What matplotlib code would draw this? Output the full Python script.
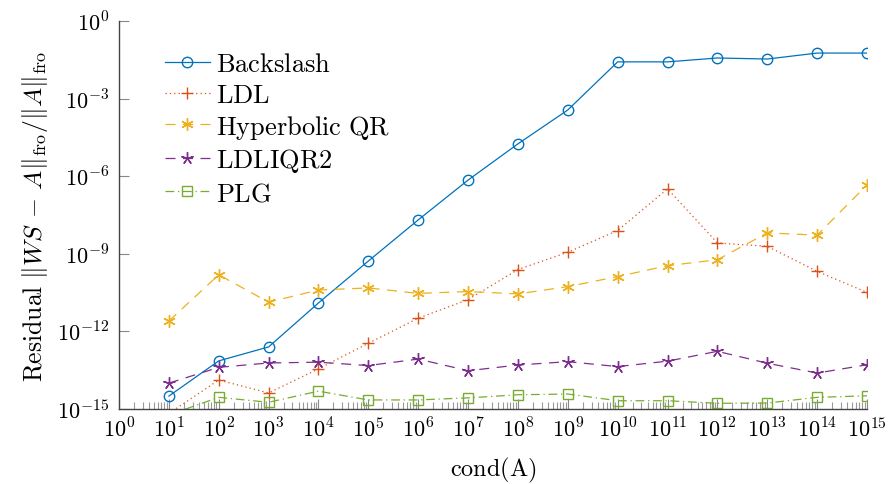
import numpy as np
import matplotlib
matplotlib.use('Agg')
import matplotlib.pyplot as plt
from matplotlib.ticker import FuncFormatter, LogLocator, FixedLocator, NullLocator

plt.rcParams['mathtext.fontset'] = 'cm'
plt.rcParams['font.family'] = 'DejaVu Serif'

# condition numbers 10^1 .. 10^15
cond = 10.0 ** np.arange(1, 16)

# residuals as log10 values
backslash = [-14.5, -13.14, -12.6, -10.9, -9.28, -7.69, -6.15, -4.75, -3.44,
             -1.58, -1.58, -1.43, -1.47, -1.24, -1.24]
ldl = [-15.17, -13.88, -14.38, -13.45, -12.46, -11.49, -10.77, -9.61, -8.94,
       -8.1, -6.49, -8.58, -8.71, -9.68, -10.49]
hyp_qr = [-11.6, -9.81, -10.87, -10.4, -10.32, -10.53, -10.46, -10.55, -10.27,
          -9.88, -9.46, -9.23, -8.19, -8.28, -6.34]
ldliqr2 = [-14.0, -13.39, -13.22, -13.19, -13.32, -13.07, -13.52, -13.3, -13.17,
           -13.36, -13.15, -12.77, -13.23, -13.61, -13.29]
plg = [-15.23, -14.55, -14.74, -14.31, -14.65, -14.65, -14.57, -14.45, -14.42,
       -14.68, -14.68, -14.78, -14.77, -14.55, -14.49]

names = ['Backslash', 'LDL', 'Hyperbolic QR', 'LDLIQR2', 'PLG']
colors = ['#0072BD', '#D95319', '#EDB120', '#7E2F8E', '#77AC30']
markers = ['o', '+', (6, 2, 0), (5, 2, 0), 's']
msizes = [7.5, 9, 9, 9, 7.5]
styles = ['-', (0, (1, 2.5)), (0, (8, 6)), (0, (8, 6)), (0, (7, 3, 1, 3))]
series = [backslash, ldl, hyp_qr, ldliqr2, plg]

fig = plt.figure(figsize=(8.91, 4.85), dpi=100)
ax = fig.add_axes([119/891, 1 - 410/485, (867 - 119)/891, (410 - 22)/485])

for name, c, m, ms, ls, vals in zip(names, colors, markers, msizes, styles, series):
    y = 10.0 ** np.array(vals)
    shown = list(y >= 1e-15)
    ax.plot(cond, y, color=c, marker=m, markersize=ms, markerfacecolor='none',
            markeredgewidth=1.0, linestyle=ls, linewidth=0.9, markevery=shown,
            label=r'$\mathrm{' + name.replace(' ', r'\ ') + '}$')

ax.set_xscale('log')
ax.set_yscale('log')
ax.set_xlim(1, 1e15)
ax.set_ylim(1e-15, 1)

ax.xaxis.set_major_locator(FixedLocator(10.0 ** np.arange(0, 16)))
ax.xaxis.set_minor_locator(LogLocator(base=10, subs=np.arange(2, 10), numticks=100))
ax.yaxis.set_major_locator(FixedLocator(10.0 ** np.arange(-15, 1, 3)))
ax.yaxis.set_minor_locator(NullLocator())
fmt = FuncFormatter(lambda v, p: r'$10^{%d}$' % int(round(np.log10(v))))
ax.xaxis.set_major_formatter(fmt)
ax.yaxis.set_major_formatter(fmt)

for s in ['top', 'right']:
    ax.spines[s].set_visible(False)
for s in ['left', 'bottom']:
    ax.spines[s].set_color('#444444')
    ax.spines[s].set_linewidth(1.0)

ax.tick_params(which='major', direction='in', length=7, width=0.8,
               color='#888888', labelsize=16, pad=6)
ax.tick_params(which='minor', direction='in', length=5, width=0.8, color='#999999')
ax.tick_params(axis='y', pad=7)

ax.set_xlabel(r'$\mathrm{cond(A)}$', fontsize=17.5, labelpad=10)
ax.set_ylabel(r'$\mathrm{Residual}\ \Vert WS\,-\,A\Vert_{\mathrm{fro}}/\Vert A\Vert_{\mathrm{fro}}$',
              fontsize=18.5, labelpad=5)

ax.legend(loc='upper left', bbox_to_anchor=(165/891, 1 - 52/485),
          bbox_transform=fig.transFigure, frameon=False, fontsize=19,
          handlelength=1.7, handletextpad=0.25, labelspacing=0.22,
          borderpad=0, borderaxespad=0)

fig.savefig('out.png', dpi=100)
